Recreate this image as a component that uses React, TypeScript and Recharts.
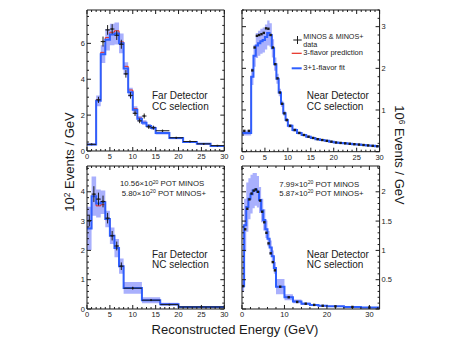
import React from "react";
import { ComposedChart, Area, Line, Scatter, ErrorBar, XAxis, YAxis } from "recharts";

const FONT = '"Liberation Sans", Arial, Helvetica, sans-serif';
const BLUE = "#2e5fff";
const RED = "#e62a1e";
const BAND = "#a9b0fd";
const INK = "#1a1a1a";

// Far Detector, CC selection (10^2 events / GeV)
const fdCcEdges = [0, 2, 3, 4, 5, 6, 7, 8, 9, 10, 11, 12, 13, 14, 15, 18, 21, 24, 27, 30];
const fdCcFit = [0.36, 2.8, 5.4, 6.2, 6.5, 6.55, 6.0, 4.6, 3.28, 2.3, 1.8, 1.58, 1.4, 1.28, 1.0, 0.72, 0.5, 0.4, 0.28];
const fdCcPred = [0.37, 2.85, 5.5, 6.32, 6.62, 6.7, 6.08, 4.72, 3.4, 2.36, 1.84, 1.6, 1.42, 1.3, 1.03, 0.73, 0.51, 0.4, 0.28];
const fdCcSyst = [0.05, 0.3, 0.5, 0.6, 0.6, 0.62, 0.55, 0.35, 0.25, 0.2, 0.15, 0.13, 0.11, 0.1, 0.08, 0.06, 0.05, 0.04, 0.03];
const fdCcData = [0.37, 2.85, 6.1, 6.75, 6.8, 6.45, 5.95, 4.3, 3.1, 2.1, 1.68, 1.95, 1.35, 1.3, 1.13, 0.74, 0.53, 0.4, 0.3];
const fdCcStat = [0.04, 0.17, 0.28, 0.27, 0.27, 0.26, 0.25, 0.21, 0.18, 0.15, 0.13, 0.14, 0.12, 0.11, 0.06, 0.05, 0.04, 0.04, 0.03];

// Near Detector, CC selection (10^6 events / GeV)
const ndCcEdges = [0, 2, 2.5, 3, 3.5, 4, 4.5, 5, 5.5, 6, 6.5, 7, 7.5, 8, 8.5, 9, 9.5, 10, 11, 12, 13, 14, 15, 16, 17, 18, 19, 20, 21, 22, 23, 24, 25, 26, 27, 28, 29, 30];
const ndCcFit = [0.45, 1.8, 2.3, 2.55, 2.6, 2.65, 2.68, 2.75, 2.85, 2.8, 2.48, 2.1, 1.75, 1.42, 1.15, 0.92, 0.76, 0.62, 0.52, 0.45, 0.4, 0.36, 0.33, 0.3, 0.28, 0.26, 0.24, 0.22, 0.21, 0.2, 0.19, 0.18, 0.17, 0.16, 0.15, 0.14, 0.13];
const ndCcSyst = [0.06, 0.2, 0.26, 0.3, 0.3, 0.3, 0.3, 0.3, 0.3, 0.28, 0.22, 0.16, 0.12, 0.09, 0.07, 0.06, 0.05, 0.04, 0.035, 0.03, 0.025, 0.02, 0.02, 0.018, 0.016, 0.015, 0.014, 0.013, 0.012, 0.012, 0.011, 0.011, 0.01, 0.01, 0.01, 0.01, 0.01];
const ndCcDataE = [0.5, 1.5, 2.25, 2.75, 3.25, 3.75, 4.25, 4.75, 5.25, 5.75, 6.25, 6.75, 7.25, 7.75, 8.25, 8.75, 9.25, 9.75, 10.5, 11.5, 12.5, 13.5, 14.5, 15.5, 16.5, 17.5, 18.5, 19.5, 20.5, 21.5, 22.5, 23.5, 24.5, 25.5, 26.5, 27.5, 28.5, 29.5];
const ndCcData = [0.5, 0.5, 1.95, 2.5, 2.78, 2.8, 2.82, 2.85, 2.96, 2.95, 2.8, 2.5, 2.1, 1.76, 1.42, 1.15, 0.92, 0.76, 0.62, 0.52, 0.45, 0.4, 0.36, 0.33, 0.3, 0.28, 0.26, 0.24, 0.22, 0.21, 0.2, 0.19, 0.18, 0.17, 0.16, 0.15, 0.14, 0.13];

// Far Detector, NC selection (10^2 events / GeV)
const fdNcEdges = [0, 1, 2, 3, 4, 5, 6, 7, 8, 12, 16, 20, 30];
const fdNcFit = [2.75, 3.85, 3.6, 3.64, 3.07, 2.5, 2.08, 1.46, 0.72, 0.3, 0.16, 0.07];
const fdNcPred = [2.75, 3.85, 3.52, 3.56, 3.05, 2.5, 2.08, 1.46, 0.72, 0.3, 0.16, 0.07];
const fdNcSyst = [0.74, 0.67, 0.48, 0.4, 0.28, 0.28, 0.31, 0.26, 0.2, 0.1, 0.05, 0.025];
const fdNcData = [3.02, 3.92, 3.75, 3.67, 3.1, 2.5, 2.15, 1.46, 0.71, 0.3, 0.15, 0.07];
const fdNcStat = [0.2, 0.27, 0.22, 0.2, 0.18, 0.16, 0.15, 0.13, 0.05, 0.03, 0.02, 0.01];

// Near Detector, NC selection (10^6 events / GeV)
const ndNcEdges = [0, 0.5, 1, 1.5, 2, 2.5, 3, 3.5, 4, 4.5, 5, 5.5, 6, 6.5, 7, 7.5, 8, 10, 12, 14, 16, 18, 20, 24, 28, 32.4];
const ndNcFit = [0.39, 1.43, 1.74, 1.88, 1.96, 2.02, 2.04, 2.0, 1.86, 1.68, 1.52, 1.36, 1.2, 1.05, 0.9, 0.7, 0.38, 0.2, 0.13, 0.09, 0.07, 0.055, 0.045, 0.035, 0.025];
const ndNcSyst = [0.1, 0.45, 0.42, 0.35, 0.33, 0.3, 0.28, 0.27, 0.22, 0.2, 0.18, 0.15, 0.13, 0.12, 0.1, 0.1, 0.13, 0.05, 0.03, 0.02, 0.015, 0.012, 0.008, 0.006, 0.005];
const ndNcDataE = [0.25, 0.75, 1.25, 1.75, 2.25, 2.75, 3.25, 3.75, 4.25, 4.75, 5.25, 5.75, 6.25, 6.75, 7.25, 7.75, 9, 11, 13, 15, 17, 19, 22, 26, 30];
const ndNcData = [0.39, 1.36, 1.71, 1.87, 1.97, 2.02, 2.04, 2.0, 1.85, 1.66, 1.48, 1.3, 1.12, 0.95, 0.8, 0.66, 0.38, 0.2, 0.12, 0.09, 0.07, 0.055, 0.045, 0.035, 0.025];

const range = (to: number, step: number) => {
  const out: number[] = [];
  for (let i = 0; i * step <= to + 1e-9; i++) out.push(Math.round(i * step * 1000) / 1000);
  return out;
};

function histRows(edges: number[], fit: number[], pred: number[], syst: number[]) {
  const rows: any[] = fit.map((v, i) => ({ x: edges[i], fit: v, pred: pred[i], band: [v - syst[i], v + syst[i]] }));
  const n = fit.length - 1;
  rows.push({ x: edges[n + 1], fit: fit[n], pred: pred[n], band: [fit[n] - syst[n], fit[n] + syst[n]] });
  return rows;
}

const binnedPoints = (edges: number[], vals: number[], errs: number[]) =>
  vals.map((v, i) => ({ x: (edges[i] + edges[i + 1]) / 2, y: v, ex: (edges[i + 1] - edges[i]) / 2, ey: errs[i] }));

const plainPoints = (xs: number[], vals: number[]) => xs.map((x, i) => ({ x, y: vals[i] }));

const has = (list: number[], v: number) => list.some((m) => Math.abs(m - v) < 1e-6);

function tickRenderer(side: string, majors: number[], labels: number[]) {
  return (props: any) => {
    const { x, y, payload } = props;
    const v = payload.value;
    const len = has(majors, v) ? 4 : 2;
    const lab = labels.find((m) => Math.abs(m - v) < 1e-6);
    const txt = { fontSize: 7.5, fill: INK, fontFamily: FONT };
    let line = null;
    let text = null;
    if (side === "bottom") {
      line = <line x1={x} x2={x} y1={y} y2={y - len} stroke={INK} />;
      if (lab !== undefined) text = <text x={x} y={y + 8.5} textAnchor="middle" {...txt}>{lab}</text>;
    } else if (side === "top") {
      line = <line x1={x} x2={x} y1={y} y2={y + len} stroke={INK} />;
    } else if (side === "left") {
      line = <line x1={x} x2={x + len} y1={y} y2={y} stroke={INK} />;
      if (lab !== undefined) text = <text x={x - 2} y={y + 2.7} textAnchor="end" {...txt}>{lab}</text>;
    } else {
      line = <line x1={x} x2={x - len} y1={y} y2={y} stroke={INK} />;
      if (lab !== undefined) text = <text x={x + 2} y={y + 2.7} textAnchor="start" {...txt}>{lab}</text>;
    }
    return (
      <g>
        {line}
        {text}
      </g>
    );
  };
}

const square = (s: number) => (p: any) => <rect x={p.cx - s / 2} y={p.cy - s / 2} width={s} height={s} fill={INK} />;

function Panel({ cfg }: { cfg: any }) {
  const PL = 22, PR = 22, PT = 4, PB = 14;
  const { left, top, w, h, xMax, yMax, xTicks, xMajor, xLabels, yTicks, yMajor, yLabels, ySide, rows, pts, cross } = cfg;
  return (
    <div style={{ position: "absolute", left: left - PL, top: top - PT }}>
      <ComposedChart width={w + PL + PR} height={h + PT + PB} data={rows} margin={{ top: 0, right: 0, bottom: 0, left: 0 }}>
        <XAxis xAxisId="b" dataKey="x" type="number" domain={[0, xMax]} allowDataOverflow ticks={xTicks} interval={0}
          orientation="bottom" height={PB} tickSize={0} tickMargin={0} tickLine={false} stroke={INK}
          tick={tickRenderer("bottom", xMajor, xLabels)} />
        <XAxis xAxisId="t" dataKey="x" type="number" domain={[0, xMax]} allowDataOverflow ticks={xTicks} interval={0}
          orientation="top" height={PT} tickSize={0} tickMargin={0} tickLine={false} stroke={INK}
          tick={tickRenderer("top", xMajor, [])} />
        <YAxis yAxisId="l" dataKey="y" type="number" domain={[0, yMax]} allowDataOverflow ticks={yTicks} interval={0}
          orientation="left" width={PL} tickSize={0} tickMargin={0} tickLine={false} stroke={INK}
          tick={tickRenderer("left", yMajor, ySide === "left" ? yLabels : [])} />
        <YAxis yAxisId="r" type="number" domain={[0, yMax]} allowDataOverflow ticks={yTicks} interval={0}
          orientation="right" width={PR} tickSize={0} tickMargin={0} tickLine={false} stroke={INK}
          tick={tickRenderer("right", yMajor, ySide === "right" ? yLabels : [])} />
        <Area xAxisId="b" yAxisId="l" dataKey="band" type="stepAfter" stroke="none" fill={BAND} fillOpacity={1}
          isAnimationActive={false} />
        <Line xAxisId="b" yAxisId="l" dataKey="pred" type="stepAfter" stroke={RED} strokeWidth={1} dot={false}
          isAnimationActive={false} />
        <Line xAxisId="b" yAxisId="l" dataKey="fit" type="stepAfter" stroke={BLUE} strokeWidth={2} dot={false}
          isAnimationActive={false} />
        <Scatter xAxisId="b" yAxisId="l" data={pts} dataKey="y" shape={square(cross ? 1.6 : 2.4)} isAnimationActive={false}>
          {cross && <ErrorBar dataKey="ex" direction="x" width={0} stroke={INK} strokeWidth={1} />}
          {cross && <ErrorBar dataKey="ey" direction="y" width={0} stroke={INK} strokeWidth={1} />}
        </Scatter>
      </ComposedChart>
    </div>
  );
}

const panels = [
  {
    left: 86.7, top: 10, w: 137.3, h: 141, xMax: 30, yMax: 7.86,
    xTicks: range(30, 1), xMajor: range(30, 5), xLabels: [0, 5, 10, 15, 20, 25, 30],
    yTicks: range(7.5, 0.5), yMajor: [0, 2, 4, 6], yLabels: [0, 2, 4, 6], ySide: "left",
    rows: histRows(fdCcEdges, fdCcFit, fdCcPred, fdCcSyst), pts: binnedPoints(fdCcEdges, fdCcData, fdCcStat), cross: true,
  },
  {
    left: 241.7, top: 10, w: 137.6, h: 141.7, xMax: 30, yMax: 3.4,
    xTicks: range(30, 1), xMajor: range(30, 5), xLabels: [0, 5, 10, 15, 20, 25, 30],
    yTicks: range(3.4, 0.2), yMajor: [0, 1, 2, 3], yLabels: [1, 2, 3], ySide: "right",
    rows: histRows(ndCcEdges, ndCcFit, ndCcFit, ndCcSyst), pts: plainPoints(ndCcDataE, ndCcData), cross: false,
  },
  {
    left: 86.7, top: 166, w: 137.3, h: 143, xMax: 30, yMax: 4.88,
    xTicks: range(30, 1), xMajor: range(30, 5), xLabels: [0, 5, 10, 15, 20, 25, 30],
    yTicks: range(4.8, 0.2), yMajor: [0, 1, 2, 3, 4], yLabels: [0, 1, 2, 3, 4], ySide: "left",
    rows: histRows(fdNcEdges, fdNcFit, fdNcPred, fdNcSyst), pts: binnedPoints(fdNcEdges, fdNcData, fdNcStat), cross: true,
  },
  {
    left: 241.7, top: 166, w: 137.6, h: 143, xMax: 32.4, yMax: 2.44,
    xTicks: range(32, 2), xMajor: [0, 10, 20, 30], xLabels: [0, 10, 20, 30],
    yTicks: range(2.4, 0.1), yMajor: [0, 0.5, 1, 1.5, 2], yLabels: [0.5, 1, 1.5, 2], ySide: "right",
    rows: histRows(ndNcEdges, ndNcFit, ndNcFit, ndNcSyst), pts: plainPoints(ndNcDataE, ndNcData), cross: false,
  },
];

const Sup = ({ children }: { children: React.ReactNode }) => (
  <span style={{ fontSize: "0.65em", position: "relative", top: "-0.5em" }}>{children}</span>
);

const Txt = ({ x, cy, size, children }: { x: number; cy: number; size: number; children: React.ReactNode }) => (
  <div style={{ position: "absolute", left: x, top: cy - size * 0.45, fontSize: size, lineHeight: `${size * 0.9}px`, whiteSpace: "nowrap", color: INK }}>
    {children}
  </div>
);

export default function App() {
  return (
    <div style={{ position: "absolute", left: 0, top: 0, width: 457, height: 343, background: "#fff", fontFamily: FONT, overflow: "hidden" }}>
      {panels.map((p, i) => (
        <Panel key={i} cfg={p} />
      ))}

      <Txt x={152} cy={95.7} size={10}>Far Detector</Txt>
      <Txt x={152} cy={106.5} size={10}>CC selection</Txt>
      <Txt x={306.7} cy={95.7} size={10}>Near Detector</Txt>
      <Txt x={306.7} cy={106.5} size={10}>CC selection</Txt>
      <Txt x={152} cy={254.3} size={10}>Far Detector</Txt>
      <Txt x={152} cy={264.5} size={10}>NC selection</Txt>
      <Txt x={306.7} cy={254.3} size={10}>Near Detector</Txt>
      <Txt x={306.7} cy={264.5} size={10}>NC selection</Txt>

      <Txt x={120} cy={184} size={7.8}>10.56×10<Sup>20</Sup> POT MINOS</Txt>
      <Txt x={121.7} cy={193.3} size={7.8}>5.80×10<Sup>20</Sup> POT MINOS+</Txt>
      <Txt x={279.3} cy={184.3} size={7.8}>7.99×10<Sup>20</Sup> POT MINOS</Txt>
      <Txt x={279.3} cy={193.3} size={7.8}>5.87×10<Sup>20</Sup> POT MINOS+</Txt>

      {/* legend */}
      <svg style={{ position: "absolute", left: 288, top: 30 }} width={16} height={45}>
        <line x1={5.3} x2={13.7} y1={10} y2={10} stroke={INK} strokeWidth={1} />
        <line x1={9.5} x2={9.5} y1={6} y2={14} stroke={INK} strokeWidth={1} />
        <line x1={3.7} x2={13.7} y1={23.3} y2={23.3} stroke={RED} strokeWidth={1.2} />
        <line x1={3.7} x2={13.7} y1={38.3} y2={38.3} stroke={BLUE} strokeWidth={2} />
      </svg>
      <Txt x={303.3} cy={37} size={7.2}>MINOS &amp; MINOS+</Txt>
      <Txt x={303.3} cy={45.4} size={7.2}>data</Txt>
      <Txt x={303.3} cy={53.6} size={7.5}>3-flavor prediction</Txt>
      <Txt x={303.3} cy={68.3} size={7.5}>3+1-flavor fit</Txt>

      {/* axis titles */}
      <div style={{ position: "absolute", left: 69, top: 162, transform: "translate(-50%, -50%) rotate(-90deg)", fontSize: 13, whiteSpace: "nowrap", color: INK }}>
        10<Sup>2</Sup> Events / GeV
      </div>
      <div style={{ position: "absolute", left: 399, top: 155, transform: "translate(-50%, -50%) rotate(90deg)", fontSize: 13, whiteSpace: "nowrap", color: INK }}>
        10<Sup>6</Sup> Events / GeV
      </div>
      <div style={{ position: "absolute", left: 235, top: 329, transform: "translate(-50%, -50%)", fontSize: 13, whiteSpace: "nowrap", color: INK }}>
        Reconstructed Energy (GeV)
      </div>
    </div>
  );
}
